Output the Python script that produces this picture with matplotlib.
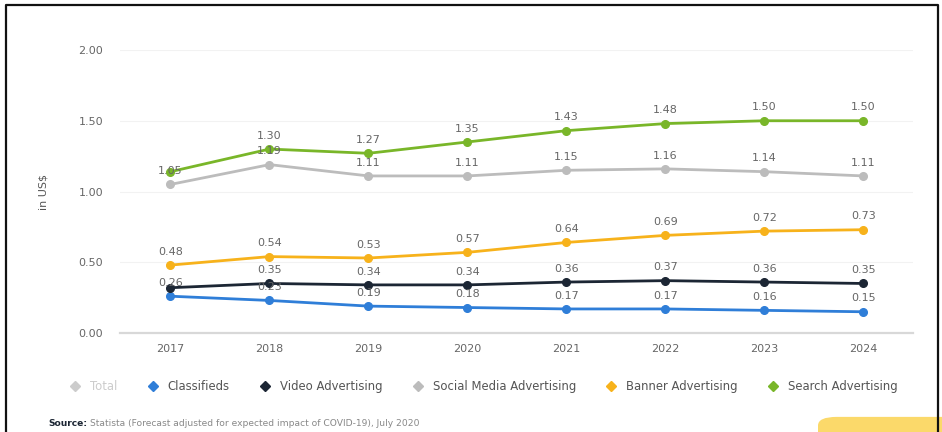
import matplotlib.pyplot as plt
from matplotlib.lines import Line2D
from matplotlib.patches import FancyBboxPatch

years = [2017, 2018, 2019, 2020, 2021, 2022, 2023, 2024]
classifieds = [0.26, 0.23, 0.19, 0.18, 0.17, 0.17, 0.16, 0.15]
video = [0.32, 0.35, 0.34, 0.34, 0.36, 0.37, 0.36, 0.35]
social = [1.05, 1.19, 1.11, 1.11, 1.15, 1.16, 1.14, 1.11]
banner = [0.48, 0.54, 0.53, 0.57, 0.64, 0.69, 0.72, 0.73]
search = [1.14, 1.30, 1.27, 1.35, 1.43, 1.48, 1.50, 1.50]

# labels that collide with a neighbour are left off
series = [
    ("Classifieds", classifieds, "#2f7ed8", []),
    ("Video Advertising", video, "#1c2634", [0]),
    ("Social Media Advertising", social, "#bcbcbc", []),
    ("Banner Advertising", banner, "#f7b21b", []),
    ("Search Advertising", search, "#79b629", [0]),
]

fig = plt.figure(figsize=(9.42, 4.32), dpi=100)
ax = fig.add_axes([120/942, 99/432, 793/942, 283/432])

for name, vals, col, hide in series:
    ax.plot(years, vals, color=col, lw=2.0, marker='o', ms=5.5, zorder=3)
    for i, (x, v) in enumerate(zip(years, vals)):
        if i in hide:
            continue
        ax.annotate(f"{v:.2f}", (x, v), xytext=(0, 6), textcoords='offset points',
                    ha='center', va='bottom', fontsize=8, color='#666666', zorder=4)

ax.set_xlim(2016.49, 2024.5)
ax.set_ylim(0, 2.0)
ax.set_yticks([0, 0.5, 1.0, 1.5, 2.0])
ax.set_yticklabels([f"{t:.2f}" for t in [0, 0.5, 1.0, 1.5, 2.0]])
ax.set_xticks(years)
ax.tick_params(length=0, labelsize=8, colors='#666666', pad=8)
ax.tick_params(axis='y', pad=12)
ax.grid(axis='y', color='#f2f2f2', lw=0.8)
ax.set_axisbelow(True)
for s in ['top', 'right', 'left']:
    ax.spines[s].set_visible(False)
ax.spines['bottom'].set_color('#d8d8d8')
ax.spines['bottom'].set_linewidth(1.6)
ax.set_ylabel("in US$", fontsize=8, color='#555555', labelpad=22)

handles = [Line2D([], [], color='#cccccc', marker='D', ls='none', ms=5)]
handles += [Line2D([], [], color=c, marker='D', ls='none', ms=5) for _, _, c, _ in series]
names = ["Total"] + [s[0] for s in series]
leg = fig.legend(handles, names, loc='center', bbox_to_anchor=(0.510, 0.106), ncol=6,
                 frameon=False, fontsize=8.4, handletextpad=0.3, columnspacing=2.0)
for t in leg.get_texts():
    t.set_color('#555555')
leg.get_texts()[0].set_color('#cccccc')

# source line: bold prefix followed by the note
src = fig.text(48/942, 1 - 423/432, "Source:", fontsize=6.6, color='#1c2634',
               fontweight='bold', va='center')
bb = src.get_window_extent(renderer=fig.canvas.get_renderer())
fig.text((bb.x1 + 3) / fig.bbox.width, 1 - 423/432,
         "Statista (Forecast adjusted for expected impact of COVID-19), July 2020",
         fontsize=6.6, color='#888888', va='center')

# frame around the figure
fig.add_artist(Line2D([6/942, 6/942, 938/942, 938/942], [0, 1 - 5/432, 1 - 5/432, 0],
                      transform=fig.transFigure, color='#111111', lw=1.6))

btn = FancyBboxPatch((818/942, -0.02), 0.2, 0.055, boxstyle="round,pad=0,rounding_size=0.02",
                     transform=fig.transFigure, fc='#fbd96a', ec='none')
fig.add_artist(btn)

fig.savefig("out.png", dpi=100)
